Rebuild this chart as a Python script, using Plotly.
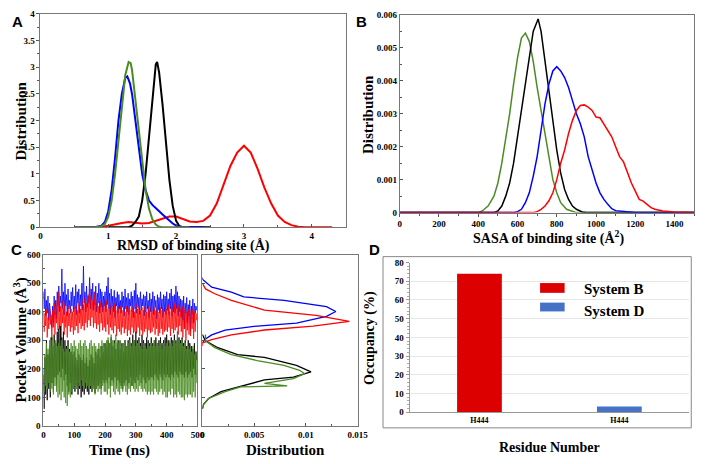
import plotly.graph_objects as go

W, H = 708, 464
OFF = 8  # the page body margin shifts the figure by 8px on screen

# ---- Panel A: RMSD of binding site distribution ----
rmsd_green_x = [0.5, 0.8, 0.9, 0.95, 1.0, 1.05, 1.1, 1.15, 1.2, 1.25, 1.3, 1.33, 1.35, 1.4, 1.45, 1.5, 1.55, 1.6, 1.65, 1.7, 1.75, 1.8, 2.2]
rmsd_green_y = [0, 0, 0.02, 0.06, 0.2, 0.5, 1.0, 1.6, 2.3, 2.85, 3.1, 3.08, 2.95, 2.4, 1.8, 1.2, 0.7, 0.35, 0.15, 0.05, 0.01, 0, 0]
rmsd_blue_x = [0.5, 0.8, 0.9, 0.95, 1.0, 1.05, 1.1, 1.15, 1.2, 1.25, 1.28, 1.32, 1.35, 1.4, 1.45, 1.5, 1.55, 1.6, 1.65, 1.7, 1.75, 1.8, 1.85, 1.9, 1.95, 2.0, 2.05, 2.1, 2.4]
rmsd_blue_y = [0, 0, 0.03, 0.1, 0.3, 0.7, 1.3, 2.0, 2.5, 2.8, 2.83, 2.7, 2.5, 2.0, 1.5, 1.0, 0.7, 0.5, 0.42, 0.35, 0.3, 0.24, 0.18, 0.12, 0.07, 0.03, 0.01, 0, 0]
rmsd_black_x = [1.0, 1.3, 1.35, 1.4, 1.45, 1.5, 1.55, 1.6, 1.65, 1.7, 1.72, 1.75, 1.8, 1.85, 1.9, 1.95, 2.0, 2.05, 2.1, 2.5]
rmsd_black_y = [0, 0, 0.03, 0.1, 0.2, 0.5, 1.0, 1.7, 2.5, 3.05, 3.1, 2.9, 2.3, 1.6, 0.9, 0.4, 0.12, 0.02, 0, 0]
rmsd_red_x = [0.6, 0.8, 0.9, 1.0, 1.1, 1.2, 1.3, 1.4, 1.5, 1.6, 1.7, 1.8, 1.9, 2.0, 2.1, 2.2, 2.3, 2.4, 2.5, 2.6, 2.7, 2.8, 2.9, 3.0, 3.1, 3.2, 3.3, 3.4, 3.5, 3.6, 3.7, 3.8, 3.9, 4.3]
rmsd_red_y = [0, 0, 0.01, 0.03, 0.06, 0.08, 0.1, 0.08, 0.07, 0.08, 0.12, 0.17, 0.2, 0.2, 0.16, 0.11, 0.1, 0.12, 0.22, 0.45, 0.8, 1.15, 1.4, 1.53, 1.4, 1.1, 0.75, 0.45, 0.22, 0.1, 0.04, 0.01, 0, 0]

# ---- Panel B: SASA of binding site distribution ----
sasa_green_x = [0, 400, 420, 450, 480, 500, 520, 540, 560, 580, 600, 620, 640, 660, 680, 700, 720, 740, 760, 780, 800, 820, 850, 880, 900, 1500]
sasa_green_y = [0, 0, 0.00005, 0.0002, 0.0005, 0.0009, 0.0015, 0.0022, 0.003, 0.0039, 0.0047, 0.0053, 0.00545, 0.0052, 0.0046, 0.0038, 0.0031, 0.0023, 0.0016, 0.001, 0.0006, 0.0003, 0.0001, 0.00003, 0, 0]
sasa_black_x = [0, 480, 500, 520, 540, 560, 580, 600, 620, 640, 660, 680, 700, 705, 720, 740, 760, 780, 800, 820, 840, 860, 880, 900, 930, 950, 1500]
sasa_black_y = [0, 0, 0.00005, 0.0002, 0.0005, 0.0009, 0.0015, 0.0023, 0.0031, 0.004, 0.0048, 0.0055, 0.0058, 0.00588, 0.0055, 0.0046, 0.0037, 0.0029, 0.0019, 0.0012, 0.0007, 0.0004, 0.0002, 0.0001, 0.00002, 0, 0]
sasa_blue_x = [0, 580, 600, 620, 640, 660, 680, 700, 720, 740, 760, 780, 800, 820, 840, 860, 880, 900, 920, 940, 960, 980, 1000, 1020, 1040, 1060, 1080, 1100, 1150, 1200, 1500]
sasa_blue_y = [0, 0, 0.00003, 0.0001, 0.0003, 0.0006, 0.0011, 0.0017, 0.0025, 0.0033, 0.0039, 0.0043, 0.00443, 0.0043, 0.0041, 0.0038, 0.0034, 0.003, 0.0027, 0.0023, 0.0017, 0.0013, 0.0009, 0.0006, 0.0004, 0.00025, 0.00012, 0.00006, 0.00002, 0, 0]
sasa_red_x = [0, 680, 700, 720, 740, 760, 780, 800, 820, 840, 860, 880, 900, 920, 940, 960, 980, 1000, 1020, 1040, 1060, 1080, 1100, 1120, 1140, 1160, 1180, 1200, 1220, 1240, 1260, 1280, 1300, 1340, 1400, 1450, 1500]
sasa_red_y = [0, 0, 0.00003, 0.0001, 0.0002, 0.00036, 0.0006, 0.001, 0.0015, 0.0019, 0.0024, 0.0028, 0.0031, 0.00325, 0.00327, 0.0032, 0.0031, 0.0029, 0.00288, 0.0027, 0.0025, 0.0023, 0.002, 0.0017, 0.00154, 0.0012, 0.0009, 0.00065, 0.0004, 0.00035, 0.00025, 0.00015, 0.0001, 0.00005, 0.00002, 0, 0]

# ---- Panel C: pocket volume vs time (2.5 ns frames) ----
time_ns = [i * 2.5 for i in range(200)]
vol_blue = [
    470, 410, 480, 385, 440, 395, 455, 370, 430, 400,
    380, 345, 420, 360, 455, 390, 440, 375, 470, 420,
    490, 400, 455, 430, 550, 410, 470, 390, 500, 420,
    460, 385, 480, 410, 440, 395, 470, 420, 485, 400,
    455, 410, 495, 390, 470, 430, 480, 395, 460, 420,
    500, 405, 560, 430, 470, 400, 490, 415, 455, 430,
    520, 410, 480, 440, 500, 405, 470, 425, 490, 400,
    465, 430, 500, 395, 480, 415, 470, 400, 455, 420,
    470, 400, 490, 425, 520, 410, 465, 390, 480, 415,
    455, 400, 475, 380, 450, 420, 470, 395, 460, 410,
    440, 395, 470, 415, 455, 385, 480, 410, 450, 400,
    465, 390, 445, 420, 470, 400, 455, 380, 475, 410,
    500, 395, 460, 415, 450, 390, 470, 405, 445, 420,
    460, 385, 455, 400, 470, 410, 440, 380, 465, 400,
    445, 400, 470, 390, 455, 415, 440, 375, 460, 405,
    450, 395, 470, 410, 445, 380, 460, 400, 455, 390,
    470, 405, 445, 390, 465, 410, 480, 385, 455, 400,
    460, 395, 490, 410, 470, 385, 455, 400, 445, 380,
    440, 370, 455, 340, 430, 395, 450, 360, 425, 385,
    440, 330, 420, 390, 445, 360, 430, 395, 420, 405]
vol_red = [
    400, 330, 395, 350, 410, 310, 380, 340, 420, 355,
    390, 300, 405, 345, 430, 320, 400, 360, 440, 335,
    470, 340, 420, 300, 440, 360, 410, 320, 430, 345,
    400, 310, 420, 350, 395, 330, 410, 345, 400, 320,
    415, 335, 420, 350, 405, 325, 430, 360, 410, 340,
    440, 350, 425, 335, 450, 360, 430, 345, 460, 370,
    490, 350, 455, 380, 440, 345, 465, 360, 430, 340,
    445, 355, 420, 330, 435, 360, 415, 335, 440, 345,
    425, 330, 440, 355, 410, 320, 430, 345, 420, 335,
    415, 325, 430, 350, 405, 315, 420, 340, 410, 330,
    420, 320, 405, 345, 415, 325, 400, 340, 420, 315,
    410, 335, 425, 320, 405, 345, 415, 325, 400, 330,
    430, 325, 410, 345, 420, 315, 405, 335, 415, 320,
    405, 330, 420, 340, 400, 310, 415, 335, 405, 325,
    420, 330, 400, 345, 415, 320, 405, 340, 420, 315,
    400, 325, 415, 340, 405, 320, 410, 330, 400, 335,
    410, 330, 425, 345, 400, 315, 420, 340, 410, 325,
    430, 335, 415, 345, 440, 320, 425, 350, 410, 330,
    420, 310, 405, 340, 415, 300, 400, 335, 410, 320,
    405, 315, 395, 340, 410, 305, 400, 330, 395, 370]
vol_black = [
    180, 60, 240, 110, 300, 90, 250, 130, 280, 100,
    310, 150, 280, 120, 320, 170, 290, 140, 330, 180,
    340, 190, 350, 170, 310, 200, 330, 160, 300, 180,
    280, 140, 300, 120, 270, 150, 260, 110, 250, 130,
    260, 120, 240, 140, 230, 110, 250, 130, 240, 100,
    230, 120, 250, 110, 220, 130, 240, 120, 210, 110,
    230, 130, 250, 120, 240, 140, 220, 115, 260, 130,
    250, 140, 270, 150, 240, 130, 280, 160, 260, 150,
    290, 160, 280, 150, 300, 170, 290, 140, 310, 160,
    280, 150, 300, 170, 270, 140, 290, 160, 300, 150,
    270, 140, 290, 130, 260, 150, 300, 160, 280, 140,
    300, 150, 310, 170, 290, 140, 320, 160, 300, 150,
    330, 170, 300, 160, 310, 180, 290, 150, 320, 170,
    300, 160, 290, 150, 310, 170, 300, 160, 290, 170,
    310, 170, 290, 160, 300, 180, 310, 170, 290, 160,
    300, 180, 310, 170, 290, 160, 300, 180, 310, 170,
    320, 180, 300, 170, 290, 160, 310, 180, 300, 170,
    320, 190, 300, 180, 330, 170, 310, 190, 300, 180,
    310, 180, 290, 170, 300, 190, 280, 170, 300, 180,
    290, 190, 280, 170, 270, 200, 290, 180, 260, 230]
vol_green = [
    200, 120, 250, 140, 290, 130, 270, 150, 300, 120,
    280, 130, 310, 110, 290, 140, 300, 120, 280, 100,
    290, 110, 280, 90, 300, 120, 270, 100, 260, 80,
    270, 70, 280, 110, 260, 100, 290, 120, 280, 130,
    300, 140, 280, 130, 270, 150, 290, 140, 300, 160,
    280, 140, 290, 130, 300, 150, 280, 140, 270, 130,
    290, 140, 300, 120, 280, 130, 290, 110, 280, 130,
    270, 120, 290, 130, 280, 110, 300, 140, 290, 120,
    280, 120, 300, 110, 310, 130, 290, 100, 320, 140,
    300, 120, 290, 110, 320, 130, 300, 120, 290, 110,
    300, 130, 280, 120, 290, 140, 300, 120, 280, 110,
    290, 130, 300, 120, 280, 140, 290, 130, 300, 120,
    280, 130, 290, 120, 300, 140, 280, 130, 270, 120,
    290, 130, 280, 120, 270, 110, 290, 120, 280, 110,
    290, 120, 280, 110, 300, 130, 280, 120, 290, 110,
    280, 120, 290, 130, 270, 110, 290, 120, 280, 100,
    290, 100, 280, 120, 300, 110, 290, 130, 280, 100,
    300, 110, 290, 100, 330, 120, 300, 110, 290, 100,
    300, 100, 280, 90, 290, 110, 270, 100, 280, 110,
    270, 110, 260, 100, 280, 120, 250, 100, 260, 150]

# volume histograms (x = distribution, y = volume)
hist_blue_vol = [520, 514, 486, 469, 452, 440, 418, 401, 384, 360, 350, 336, 319, 302, 290]
hist_blue_p = [0, 0, 0.0009, 0.0028, 0.004, 0.0079, 0.012, 0.0129, 0.012, 0.0091, 0.0053, 0.0022, 0.0009, 0.0002, 0]
hist_red_vol = [500, 480, 463, 440, 406, 387, 366, 350, 336, 319, 302, 291, 280]
hist_red_p = [0, 0.0003, 0.0012, 0.0028, 0.006, 0.011, 0.0142, 0.0107, 0.006, 0.0028, 0.0009, 0, 0]
hist_black_vol = [320, 298, 274, 250, 240, 223, 212, 189, 171, 161, 137, 120, 96, 75, 60]
hist_black_p = [0, 0.0003, 0.0015, 0.0034, 0.006, 0.0079, 0.0091, 0.0105, 0.0088, 0.006, 0.0034, 0.0018, 0.0006, 0.0001, 0]
hist_green_vol = [320, 298, 274, 250, 229, 212, 195, 183, 166, 149, 140, 137, 120, 96, 75, 60]
hist_green_p = [0.0003, 0.0003, 0.0012, 0.0028, 0.0053, 0.0079, 0.0094, 0.0099, 0.0088, 0.006, 0.0082, 0.0037, 0.0022, 0.0006, 0.0001, 0]

# ---- Panel D: occupancy ----
occ_systems = ["System B", "System D"]
occ_values = [74, 3]
occ_labels = ["H444", "H444"]

RED, BLUE, BLACK, GREEN = "#ff0000", "#0000ff", "#000000", "#4a8c22"
SERIF = "Liberation Serif"


def xd(a, b):
    return [(a - OFF) / W, (b - OFF) / W]


def yd(top, bottom):
    return [1 - (bottom - OFF) / H, 1 - (top - OFF) / H]


fig = go.Figure()

# A
for xs, ys, c in [(rmsd_red_x, rmsd_red_y, RED), (rmsd_black_x, rmsd_black_y, BLACK),
                  (rmsd_blue_x, rmsd_blue_y, BLUE), (rmsd_green_x, rmsd_green_y, GREEN)]:
    fig.add_trace(go.Scatter(x=xs, y=ys, mode="lines", line=dict(color=c, width=2),
                             xaxis="x", yaxis="y", showlegend=False))
# B
for xs, ys, c in [(sasa_green_x, sasa_green_y, GREEN), (sasa_black_x, sasa_black_y, BLACK),
                  (sasa_blue_x, sasa_blue_y, BLUE), (sasa_red_x, sasa_red_y, RED)]:
    fig.add_trace(go.Scatter(x=xs, y=ys, mode="lines", line=dict(color=c, width=1.5),
                             xaxis="x2", yaxis="y2", showlegend=False))
# C left
for ys, c in [(vol_blue, BLUE), (vol_red, RED), (vol_black, BLACK), (vol_green, GREEN)]:
    fig.add_trace(go.Scatter(x=time_ns, y=ys, mode="lines", line=dict(color=c, width=0.8),
                             xaxis="x3", yaxis="y3", showlegend=False))
# C right
for xs, ys, c in [(hist_blue_p, hist_blue_vol, BLUE), (hist_red_p, hist_red_vol, RED),
                  (hist_black_p, hist_black_vol, BLACK), (hist_green_p, hist_green_vol, GREEN)]:
    fig.add_trace(go.Scatter(x=xs, y=ys, mode="lines", line=dict(color=c, width=1.3),
                             xaxis="x4", yaxis="y4", showlegend=False))
# D
for i, (name, val, c) in enumerate(zip(occ_systems, occ_values, ["#dd0000", "#4472c4"])):
    fig.add_trace(go.Bar(x=[i], y=[val], name=name, marker=dict(color=c, line=dict(width=0)),
                         width=0.32, xaxis="x5", yaxis="y5", showlegend=False))

tickfont = dict(family=SERIF, size=9, color="black", weight="bold")


def frame(ticks):
    return dict(showline=True, linecolor="#777777", linewidth=1, mirror=True,
                showgrid=False, zeroline=False, ticks=ticks, ticklen=3,
                tickcolor="#555555", tickfont=tickfont)


def minor(step, ticks):
    return dict(dtick=step, ticks=ticks, ticklen=2, tickcolor="#555555")


fig.update_layout(
    width=W, height=H, margin=dict(l=0, r=0, t=0, b=0),
    paper_bgcolor="white", plot_bgcolor="white",
    xaxis=dict(domain=xd(39, 350), range=[0, 4.5], dtick=1, anchor="y",
               minor=minor(0.5, "inside"), **frame("inside")),
    yaxis=dict(domain=yd(9, 227), range=[0, 4], dtick=0.5, anchor="x",
               minor=minor(0.25, "outside"), **frame("outside")),
    xaxis2=dict(domain=xd(405, 705), range=[0, 1500], dtick=200, anchor="y2",
                minor=minor(100, "outside"), **frame("outside")),
    yaxis2=dict(domain=yd(10, 212), range=[0, 0.006], dtick=0.001, anchor="x2",
                minor=minor(0.0005, "inside"), **frame("inside")),
    xaxis3=dict(domain=xd(42, 199), range=[0, 500], dtick=100, anchor="y3",
                minor=minor(50, "inside"), **frame("inside")),
    yaxis3=dict(domain=yd(255, 430), range=[0, 600], dtick=100, anchor="x3",
                minor=minor(50, "inside"), **frame("inside")),
    xaxis4=dict(domain=xd(204, 362), range=[0, 0.015], dtick=0.005, anchor="y4",
                minor=minor(0.0025, "inside"), **frame("inside")),
    yaxis4=dict(domain=yd(255, 430), range=[0, 600], dtick=100, anchor="x4",
                showticklabels=False, **frame("inside")),
    xaxis5=dict(domain=xd(415, 700), range=[-0.5, 1.5], anchor="y5",
                tickvals=[0, 1], ticktext=occ_labels, showline=True, linecolor="#999999",
                showgrid=False, zeroline=False, ticks="",
                tickfont=dict(family=SERIF, size=8, color="black", weight="bold")),
    yaxis5=dict(domain=yd(263, 416), range=[0, 80], dtick=10, anchor="x5",
                showline=True, linecolor="#999999", showgrid=True, gridcolor="#e6e6e6",
                zeroline=False, ticks="outside", ticklen=3, tickcolor="#999999",
                minor=dict(dtick=2, ticks="outside", ticklen=2, tickcolor="#aaaaaa"),
                tickfont=dict(family=SERIF, size=9, color="black", weight="bold")),
)

# outer box of panel D and its legend swatches
fig.add_shape(type="rect", xref="paper", yref="paper", x0=(388 - OFF) / W, x1=(702 - OFF) / W,
              y0=1 - (432 - OFF) / H, y1=1 - (257 - OFF) / H,
              line=dict(color="#888888", width=1), layer="below")
for (top, bottom, c) in [(284, 294, "#dd0000"), (304, 313, "#4472c4")]:
    fig.add_shape(type="rect", xref="paper", yref="paper", x0=(548 - OFF) / W, x1=(573 - OFF) / W,
                  y0=1 - (bottom - OFF) / H, y1=1 - (top - OFF) / H, line=dict(width=0), fillcolor=c)

ann = []


def text(s, x, y, size=14, angle=0, family=SERIF, xanchor="center"):
    ann.append(dict(text=s, x=(x - OFF) / W, y=1 - (y - OFF) / H, xref="paper", yref="paper",
                    showarrow=False, textangle=angle, xanchor=xanchor, yanchor="middle",
                    font=dict(family=family, size=size, color="black")))


text("<b>System B</b>", 591, 290, size=15, xanchor="left")
text("<b>System D</b>", 591, 313, size=15, xanchor="left")

# panel letters, kept inside the figure area
text("<b>A</b>", 16, 17, size=15, family="Liberation Sans")
text("<b>B</b>", 366, 17, size=15, family="Liberation Sans")
text("<b>C</b>", 15, 250, size=15, family="Liberation Sans")
text("<b>D</b>", 379, 250, size=15, family="Liberation Sans")

text("<b>Distribution</b>", 19, 118, size=15, angle=-90)
text("<b>RMSD of binding site (Å)</b>", 195, 246, size=14)
text("<b>Distribution</b>", 372, 112, size=15, angle=-90)
text("<b>SASA of binding site (Å<sup>2</sup>)</b>", 557, 237, size=14)
text("<b>Pocket Volume (Å<sup>3</sup>)</b>", 19, 342, size=15, angle=-90)
text("<b>Time (ns)</b>", 120, 455, size=15)
text("<b>Distribution</b>", 289, 455, size=15)
text("<b>Occupancy (%)</b>", 375, 340, size=14, angle=-90)
text("<b>Residue Number</b>", 558, 452, size=14)

fig.update_layout(annotations=ann)

fig.write_html("out.html")
